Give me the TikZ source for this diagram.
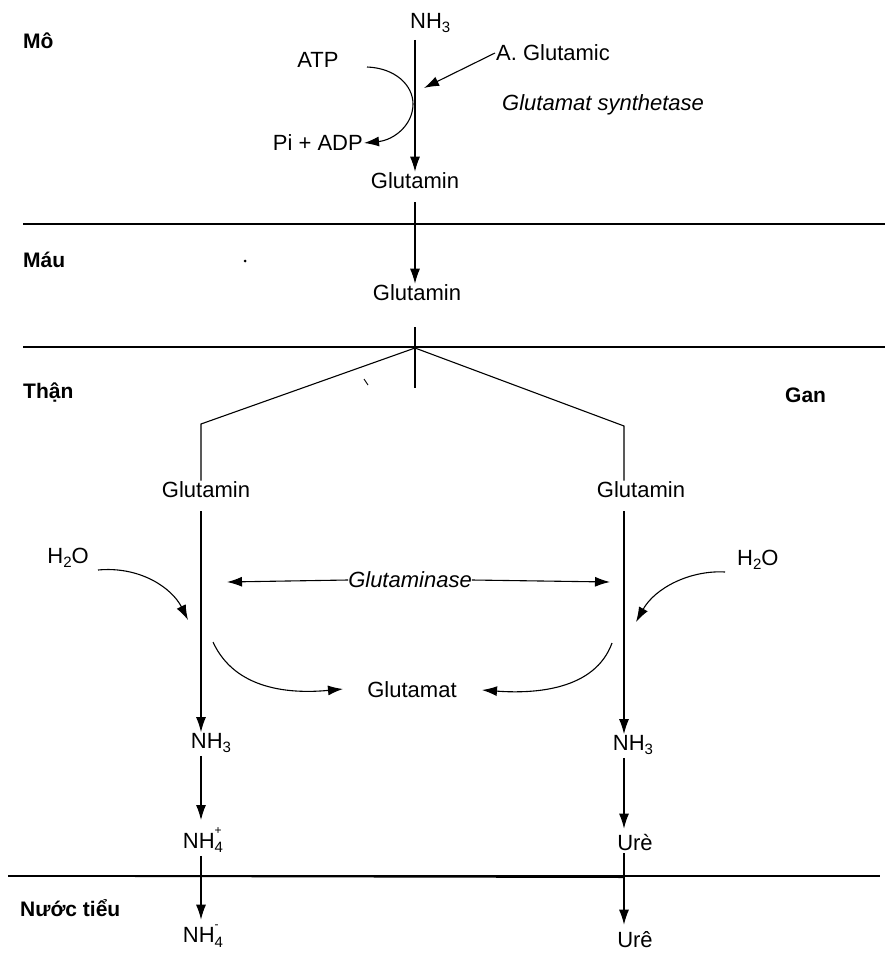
\documentclass[tikz,border=0pt]{standalone}
\usepackage{fontspec}
\setmainfont{Liberation Sans}
\usetikzlibrary{arrows.meta,calc}
\newcommand\sbs[1]{\raisebox{-0.35ex}{\fontsize{15}{15}\selectfont #1}}
\newcommand\ssp[2]{\makebox[0pt][l]{\raisebox{1.2ex}{\fontsize{12}{12}\selectfont #1}}\raisebox{-0.4ex}{\fontsize{15}{15}\selectfont #2}}
\tikzset{
  lab/.style={font=\fontsize{22}{25}\selectfont, inner sep=1pt},
  itl/.style={font=\itshape\fontsize{22}{25}\selectfont, inner sep=1pt},
  reg/.style={font=\bfseries\fontsize{21}{25}\selectfont, anchor=west, inner sep=0pt},
  arr/.style={-{Latex[length=15pt,width=10pt]}, line width=1.1pt},
  ln/.style={line width=1.1pt},
  bound/.style={line width=1.1pt},
  thk/.style={line width=2pt},
}
\begin{document}
\begin{tikzpicture}[x=1pt,y=-1pt]
\useasboundingbox (0,0) rectangle (885,955);
\fill[white] (0,0) rectangle (885,955);

% region labels
\node[reg] (mo) at (23,41) {Mô};
\node[reg] (mau) at (23,260) {Máu};
\node[reg] (than) at (23,393) {Thận};
\node[reg] (gan) at (785,395) {Gan};
\node[reg] (nuoc) at (20,908) {Nước tiểu};

% boundaries
\draw[bound] (23,224) -- (885,224);
\draw[thk] (23,224) -- (413,224);
\draw[bound] (23,347) -- (885,347);
\draw[thk] (243,347) -- (415,347);
\draw[bound] (8,876) -- (880,876);
\draw[thk] (135,876) -- (624,877);

% specks
\fill (245,261) circle (1.5pt);
\draw[line width=0.9pt] (364,379) -- (368,385);

% top: tissue
\node[lab, anchor=west] (nh3t) at (409,23) {NH\sbs{3}};
\node[lab] (atp) at (318,60) {ATP};
\node[lab, anchor=west] (aglu) at (495,53) {A. Glutamic};
\node[itl, anchor=west] (synth) at (501,105) {Glutamat synthetase};
\node[lab, anchor=east] (piadp) at (364,143) {Pi + ADP};
\node[lab] (glu1) at (415,181) {Glutamin};
\coordinate (agtip) at (424,88);
\coordinate (atps) at (367,67);

\draw[arr] ([yshift=-6pt]nh3t.south -| glu1.north) -- (glu1.north);
\draw[arr] (aglu.west) -- (agtip);
\draw[arr] (atps) .. controls (395,68) and (413,85) .. (413,104)
              .. controls (413,125) and (394,140) .. (piadp.east);

% blood
\node[lab] (glu2) at (417,293) {Glutamin};
\draw[arr, shorten <=12pt] (glu1.south) -- (glu1.south |- glu2.north);

% split
\coordinate (j) at (415,348);
\draw[ln] (415,327) -- (415,388);
\coordinate (cl) at (201,424);
\coordinate (cr) at (624,426);
\node[lab] (gl) at (206,490) {Glutamin};
\node[lab] (gr) at (641,490) {Glutamin};
\draw[ln] (j) -- (cl) -- (cl |- gl.north);
\draw[ln] (j) -- (cr) -- (cr |- gr.north);

% kidney column
\node[lab, anchor=east] (hl) at (90,558) {H\sbs{2}O};
\node[lab] (nl) at (211,743) {NH\sbs{3}};
\node[lab] (n4) at (203,840) {NH\ssp{+}{4}};
\node[lab] (n4b) at (203,936) {NH\ssp{-}{4}};
\draw[arr, shorten <=12pt] (cl |- gl.south) -- (cl |- nl.north);
\draw[thk] ([yshift=-12pt]cl |- gl.south) -- (201,608);
\draw[arr, shorten <=2pt, shorten >=6pt] (cl |- nl.south) -- (cl |- n4.north);
\draw[arr, shorten <=2pt, shorten >=4pt] (cl |- n4.south) -- (cl |- n4b.north);

% liver column
\node[lab, anchor=west] (hr) at (736,560) {H\sbs{2}O};
\node[lab] (nr) at (633,745) {NH\sbs{3}};
\node[lab] (ur) at (635,842) {Urè};
\node[lab] (ur2) at (635,940) {Urê};
\draw[arr, shorten <=12pt] (cr |- gr.south) -- (cr |- nr.north);
\draw[arr, shorten <=2pt, shorten >=4pt] (cr |- nr.south) -- (cr |- ur.north);
\draw[arr, shorten <=2pt, shorten >=6pt] (cr |- ur.south) -- (cr |- ur2.north);

% water arrows
\coordinate (hlt) at (188,620);
\coordinate (hrt) at (636,622);
\draw[arr] ($(hl.east)+(8,12)$) .. controls (140,566) and (172,588) .. (hlt);
\draw[arr] ($(hr.west)+(-11,12)$) .. controls (690,570) and (655,588) .. (hrt);

% glutaminase
\node[itl, inner sep=0pt] (gase) at (410,580) {Glutaminase};
\coordinate (glt) at (227,582);
\coordinate (grt) at (610,582);
\draw[arr] (gase.west) -- (glt);
\draw[arr] (gase.east) -- (grt);

% glutamat
\node[lab] (gmat) at (412,690) {Glutamat};
\coordinate (gml) at (343,689);
\coordinate (gmr) at (482,690);
\draw[arr] (213,642) .. controls (235,690) and (290,694) .. (gml);
\draw[arr] (612,643) .. controls (595,690) and (535,694) .. (gmr);
\end{tikzpicture}
\end{document}
